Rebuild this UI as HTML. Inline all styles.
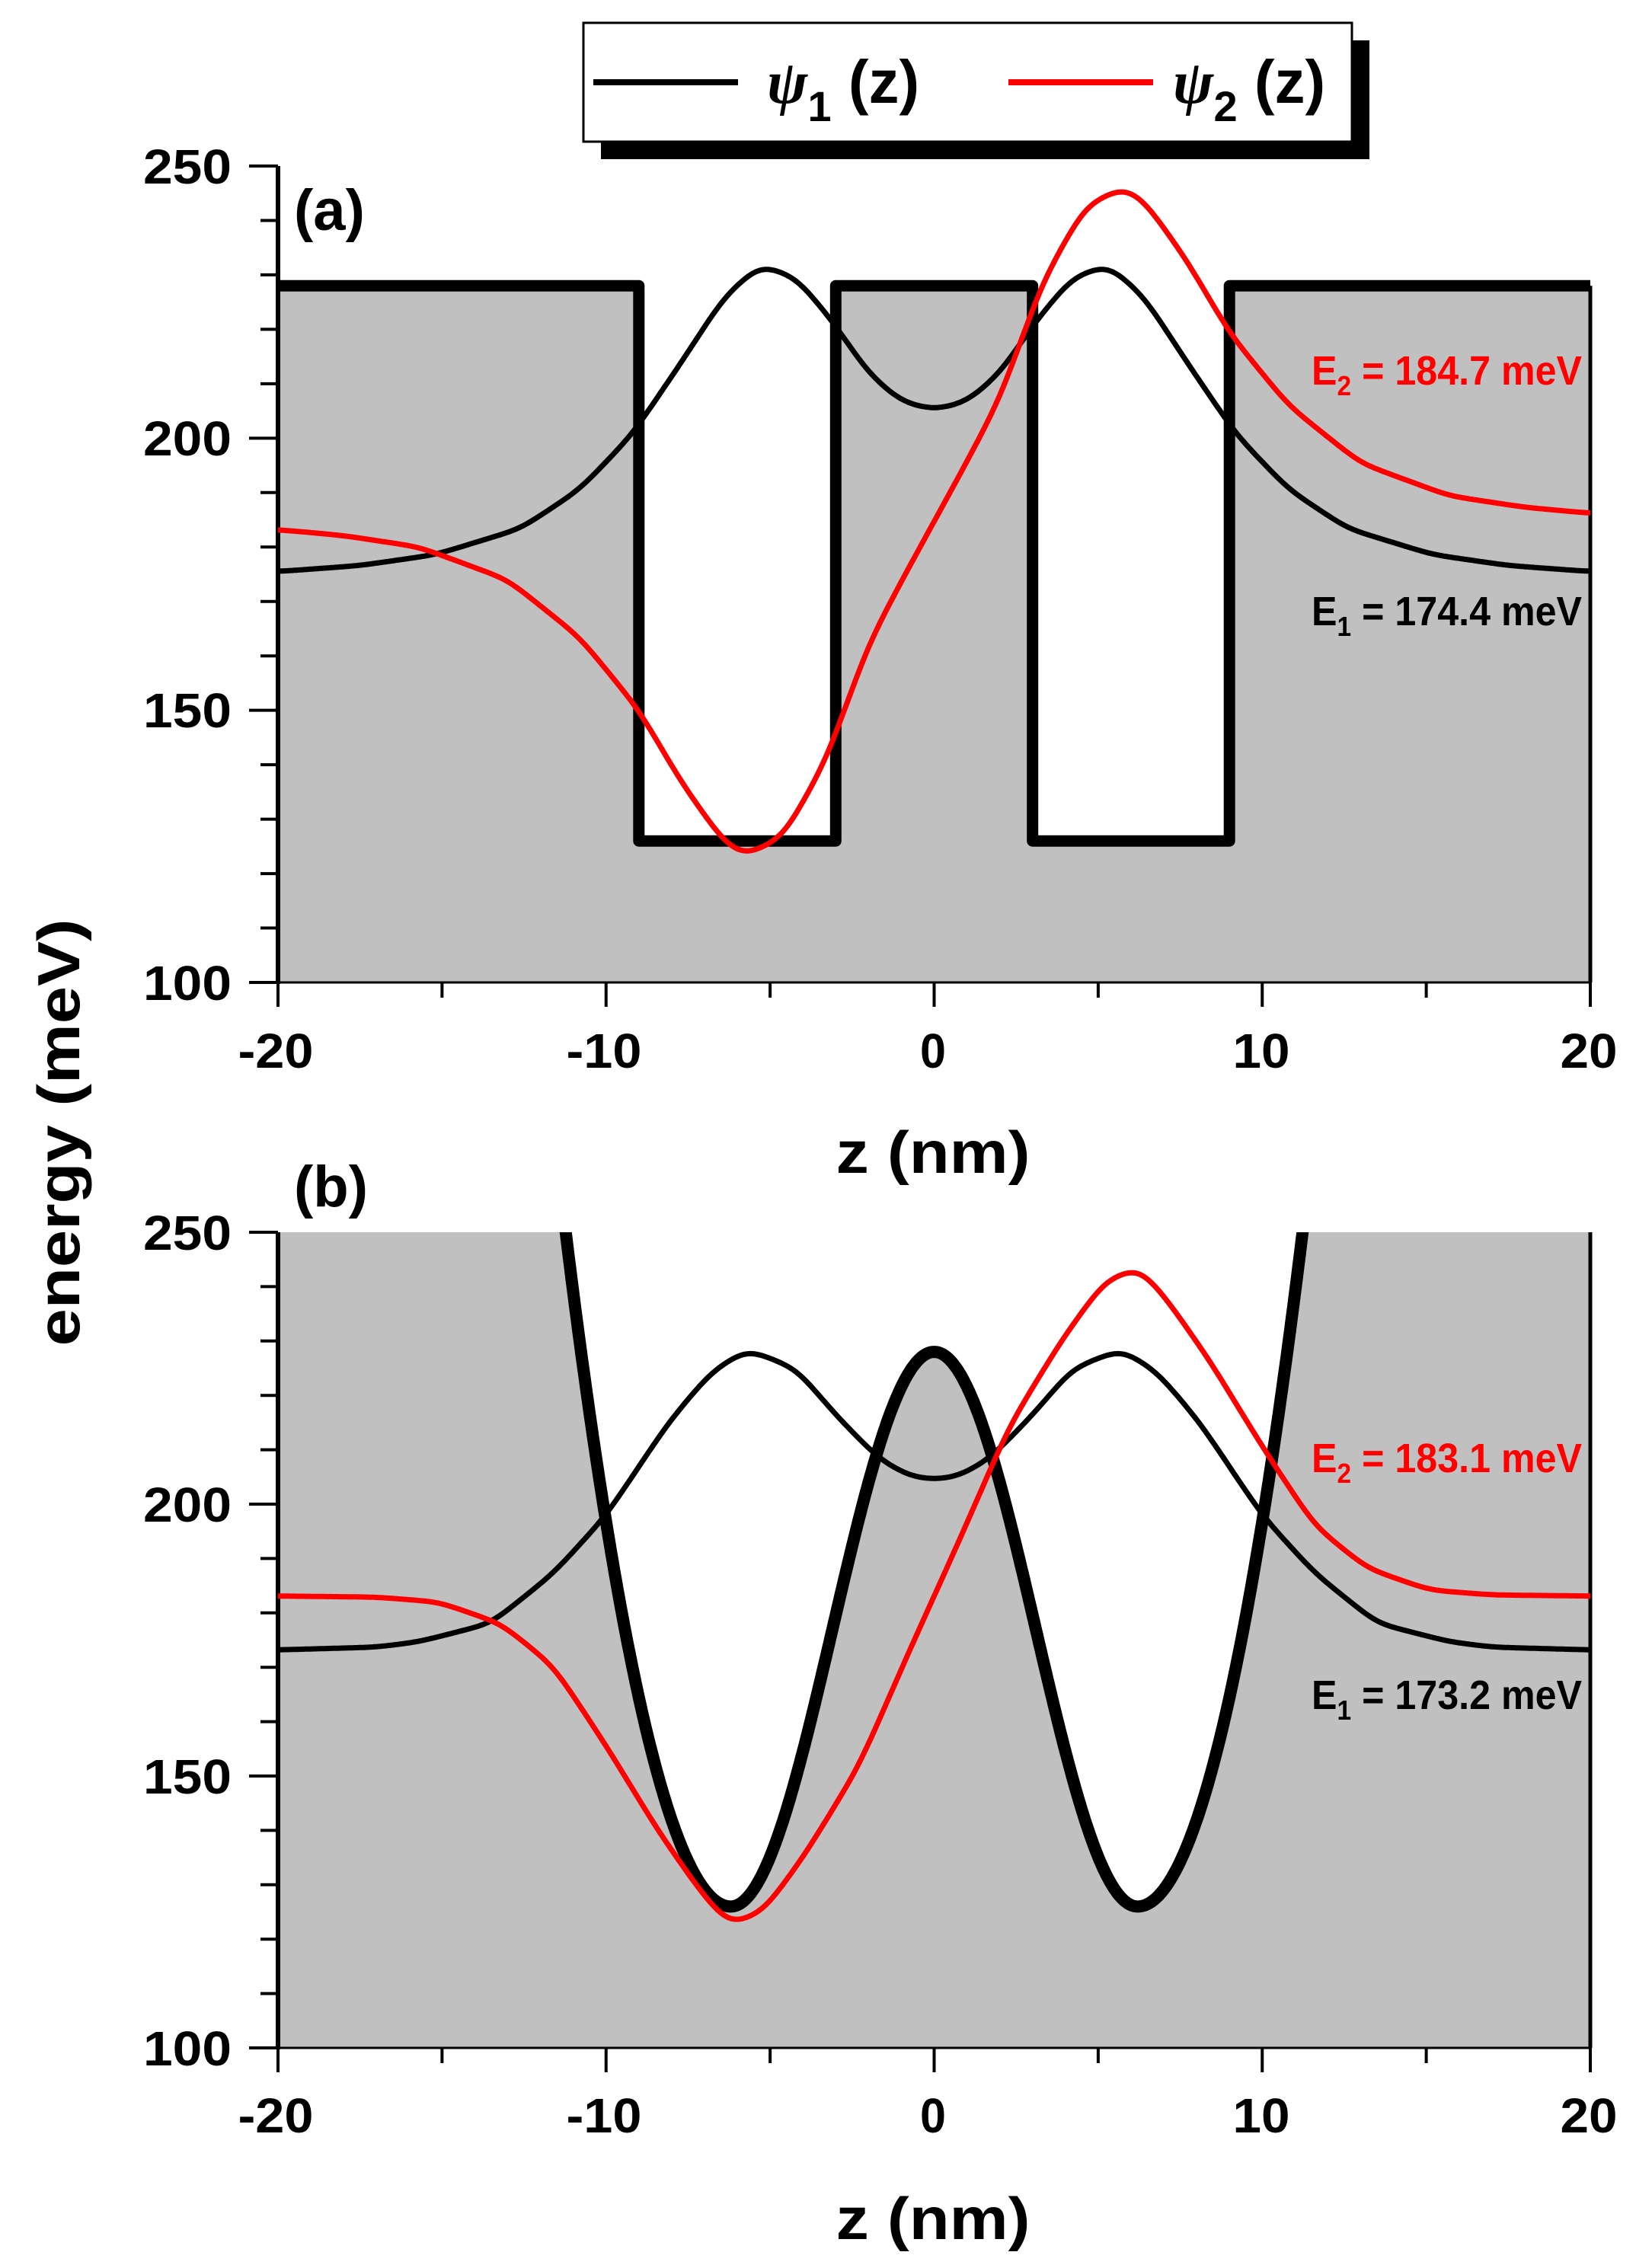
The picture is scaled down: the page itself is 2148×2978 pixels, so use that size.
<!DOCTYPE html>
<html><head><meta charset="utf-8"><style>
html,body{margin:0;padding:0;background:#fff;}
svg{display:block;}
text{font-family:"Liberation Sans",Arial,sans-serif;font-weight:bold;}
</style></head><body>
<svg id="s" xmlns="http://www.w3.org/2000/svg" width="2148" height="2978" viewBox="0 0 2148 2978">
<defs>
<clipPath id="ca"><rect x="365" y="218" width="1723" height="1072"/></clipPath>
<clipPath id="cb"><rect x="365" y="1618" width="1723" height="1071"/></clipPath>
</defs>
<!-- Legend -->
<rect x="789" y="53" width="1009" height="156" fill="#000"/>
<rect x="766" y="30" width="1009" height="156" fill="#fff" stroke="#000" stroke-width="3"/>
<line x1="779" y1="108" x2="969" y2="108" stroke="#000" stroke-width="8"/>
<line x1="1324" y1="108" x2="1514" y2="108" stroke="#f00" stroke-width="8"/>
<text x="1007" y="135" font-size="80"><tspan font-style="italic" font-family="Liberation Serif, serif">ψ</tspan><tspan font-size="56" dy="24">1</tspan><tspan dy="-24"> (z)</tspan></text>
<text x="1540" y="135" font-size="80"><tspan font-style="italic" font-family="Liberation Serif, serif">ψ</tspan><tspan font-size="56" dy="24">2</tspan><tspan dy="-24"> (z)</tspan></text>

<g id="pa"></g>
<g id="pb"></g>

<text x="386" y="302" font-size="76">(a)</text>
<text x="386" y="1584" font-size="76">(b)</text>
<g font-size="64" text-anchor="end">
<text x="304" y="241" textLength="116" lengthAdjust="spacingAndGlyphs">250</text>
<text x="304" y="598" textLength="116" lengthAdjust="spacingAndGlyphs">200</text>
<text x="304" y="955" textLength="116" lengthAdjust="spacingAndGlyphs">150</text>
<text x="304" y="1313" textLength="116" lengthAdjust="spacingAndGlyphs">100</text>
<text x="304" y="1641" textLength="116" lengthAdjust="spacingAndGlyphs">250</text>
<text x="304" y="1998" textLength="116" lengthAdjust="spacingAndGlyphs">200</text>
<text x="304" y="2355" textLength="116" lengthAdjust="spacingAndGlyphs">150</text>
<text x="304" y="2712" textLength="116" lengthAdjust="spacingAndGlyphs">100</text>
</g>
<g font-size="64" text-anchor="middle">
<text x="362" y="1402" textLength="99" lengthAdjust="spacingAndGlyphs">-20</text>
<text x="793" y="1402" textLength="99" lengthAdjust="spacingAndGlyphs">-10</text>
<text x="1225" y="1402" textLength="34" lengthAdjust="spacingAndGlyphs">0</text>
<text x="1656" y="1402" textLength="75" lengthAdjust="spacingAndGlyphs">10</text>
<text x="2086" y="1402" textLength="75" lengthAdjust="spacingAndGlyphs">20</text>
<text x="362" y="2800" textLength="99" lengthAdjust="spacingAndGlyphs">-20</text>
<text x="793" y="2800" textLength="99" lengthAdjust="spacingAndGlyphs">-10</text>
<text x="1225" y="2800" textLength="34" lengthAdjust="spacingAndGlyphs">0</text>
<text x="1656" y="2800" textLength="75" lengthAdjust="spacingAndGlyphs">10</text>
<text x="2086" y="2800" textLength="75" lengthAdjust="spacingAndGlyphs">20</text>
</g>
<text x="1225" y="1540" font-size="78" text-anchor="middle" textLength="255" lengthAdjust="spacingAndGlyphs">z (nm)</text>
<text x="1225" y="2940" font-size="78" text-anchor="middle" textLength="255" lengthAdjust="spacingAndGlyphs">z (nm)</text>
<text transform="translate(104,1487) rotate(-90)" font-size="78" text-anchor="middle" textLength="561" lengthAdjust="spacingAndGlyphs">energy (meV)</text>

<g font-size="54" text-anchor="end">
<text transform="translate(2077,505) scale(0.93,1)" fill="#f00">E<tspan font-size="36" dy="14">2</tspan><tspan dy="-14"> = 184.7 meV</tspan></text>
<text transform="translate(2077,821) scale(0.93,1)" fill="#000">E<tspan font-size="36" dy="14">1</tspan><tspan dy="-14"> = 174.4 meV</tspan></text>
<text transform="translate(2077,1933) scale(0.93,1)" fill="#f00">E<tspan font-size="36" dy="14">2</tspan><tspan dy="-14"> = 183.1 meV</tspan></text>
<text transform="translate(2077,2244) scale(0.93,1)" fill="#000">E<tspan font-size="36" dy="14">1</tspan><tspan dy="-14"> = 173.2 meV</tspan></text>
</g>
</svg>
<script>
(function(){
var NS="http://www.w3.org/2000/svg";
var X0=365,X1=2088;
function X(z){return X0+(z+20)/40*(X1-X0);}
function mk(tag,attrs,parent){var e=document.createElementNS(NS,tag);for(var k in attrs)e.setAttribute(k,attrs[k]);parent.appendChild(e);return e;}
function interp(pts,z){
  var n=pts.length;
  if(z<=pts[0][0])return pts[0][1];
  if(z>=pts[n-1][0])return pts[n-1][1];
  var i=0;while(z>pts[i+1][0])i++;
  var t=(z-pts[i][0])/(pts[i+1][0]-pts[i][0]);
  return pts[i][1]+(pts[i+1][1]-pts[i][1])*t;
}
function sym(half,odd){var a=[];for(var i=half.length-1;i>0;i--)a.push([-half[i][0],odd?-half[i][1]:half[i][1]]);return a.concat(half);}
function curve(pts,E,Y){
  var N=1600,vals=[];
  for(var k=0;k<=N;k++){vals.push(interp(pts,-20+40*k/N));}
  // gaussian smoothing sigma ~0.35nm
  var sig=0.35/(40/N),R=Math.ceil(3*sig),w=[];
  for(var j=-R;j<=R;j++)w.push(Math.exp(-j*j/(2*sig*sig)));
  var sm=[];
  for(var k=0;k<=N;k++){var s=0,ws=0;for(var j=-R;j<=R;j++){var idx=Math.min(N,Math.max(0,k+j));s+=vals[idx]*w[j+R];ws+=w[j+R];}sm.push(s/ws);}
  var d="";for(var k=0;k<=N;k+=2){d+=(k?"L":"M")+X(-20+40*k/N).toFixed(1)+","+Y(E+sm[k]).toFixed(1);}
  return d;
}
function axes(g,Y,ytop,ybot,rightTop){
  mk("line",{x1:X1,y1:rightTop,x2:X1,y2:ybot,stroke:"#000","stroke-width":5},g);
  mk("line",{x1:X0,y1:ytop,x2:X0,y2:ybot+2,stroke:"#000","stroke-width":6},g);
  mk("line",{x1:X0,y1:ybot,x2:X1,y2:ybot,stroke:"#000","stroke-width":3},g);
  for(var e=100;e<=250;e+=10){var maj=(e%50==0);var y=Y(e);mk("line",{x1:maj?327:342,y1:y,x2:X0,y2:y,stroke:"#000","stroke-width":4},g);}
  for(var z=-20;z<=20;z+=5){var maj=(z%10==0);mk("line",{x1:X(z),y1:ybot,x2:X(z),y2:ybot+(maj?32:20),stroke:"#000","stroke-width":4},g);}
}
var ga=document.getElementById("pa");
var Ya=function(e){return 218+(250-e)/150*1072;};
mk("rect",{x:X0,y:218,width:X1-X0,height:1072,fill:"#c0c0c0"},ga);
mk("rect",{x:X0,y:218,width:X1-X0,height:Ya(228)-218,fill:"#fff"},ga);
mk("rect",{x:X(-9),y:218,width:X(-3)-X(-9),height:Ya(126)-218,fill:"#fff"},ga);
mk("rect",{x:X(3),y:218,width:X(9)-X(3),height:Ya(126)-218,fill:"#fff"},ga);
var pv=[[-20,228],[-9,228],[-9,126],[-3,126],[-3,228],[3,228],[3,126],[9,126],[9,228],[20,228]];
var d="";pv.forEach(function(p,i){d+=(i?"L":"M")+X(p[0]).toFixed(1)+","+Ya(p[1]).toFixed(1);});
mk("path",{d:d,fill:"none",stroke:"#000","stroke-width":15,"stroke-linejoin":"round"},ga);
axes(ga,Ya,218,1290,Ya(228));
var f1a=sym([[0,30.8],[1,32.3],[2,37.5],[3.1,47.1],[4.2,55.1],[5.3,57.5],[6.4,51.6],[7.7,39.6],[9.2,26.3],[10.8,16.2],[12.6,9],[15.2,4.2],[17.5,2.2],[20,1.1]],false);
var f2a=sym([[0,0],[1,11],[2,22.5],[3.3,44],[4.6,58],[5.8,61.5],[6.4,59],[7.7,48],[9,34.6],[10.8,21.3],[13,10.7],[15.7,4.7],[18,2.6],[20,1.5]],true);
mk("path",{d:curve(f1a,174.4,Ya),fill:"none",stroke:"#000","stroke-width":7,"clip-path":"url(#ca)"},ga);
mk("path",{d:curve(f2a,184.7,Ya),fill:"none",stroke:"#f00","stroke-width":7,"clip-path":"url(#ca)"},ga);
var gb=document.getElementById("pb");
var Yb=function(e){return 1618+(250-e)/150*1071;};
function V(z){var a=Math.abs(z);if(a>=6.2)return 126+4.9*(a-6.2)*(a-6.2);var c=Math.cos(Math.PI*a/12.4);return 126+102*c*c;}
mk("rect",{x:X0,y:1618,width:X1-X0,height:1071,fill:"#c0c0c0"},gb);
var dv="";
for(var k=0;k<=800;k++){var z=-20+40*k/800;var v=Math.min(V(z),300);dv+=(k?"L":"M")+X(z).toFixed(1)+","+Yb(v).toFixed(1);}
var dw=dv+"L"+X(20)+","+Yb(300)+"L"+X(-20)+","+Yb(300)+"Z";
mk("path",{d:dw,fill:"#fff","clip-path":"url(#cb)"},gb);
mk("path",{d:dv,fill:"none",stroke:"#000","stroke-width":16,"clip-path":"url(#cb)"},gb);
axes(gb,Yb,1618,2689,1618);
var f1b=sym([[0,31.3],[0.75,31.9],[1.7,35.2],[3,43.2],[4.2,51.7],[5.7,55.3],[6.8,51.1],[8.1,41.8],[10,24.7],[11.6,14.1],[13.5,4.9],[15.7,1.5],[17,0.5],[20,0]],false);
var f2b=sym([[0,0],[0.75,10],[2.3,31.4],[3.9,47.2],[5.2,58],[6.25,60.5],[7.1,54.5],[8.4,43.3],[10,27.5],[11.6,12.9],[13.2,5.1],[15.1,1.1],[17,0.2],[20,0]],true);
mk("path",{d:curve(f1b,173.2,Yb),fill:"none",stroke:"#000","stroke-width":7,"clip-path":"url(#cb)"},gb);
mk("path",{d:curve(f2b,183.1,Yb),fill:"none",stroke:"#f00","stroke-width":7,"clip-path":"url(#cb)"},gb);
})();
</script>
</body></html>
